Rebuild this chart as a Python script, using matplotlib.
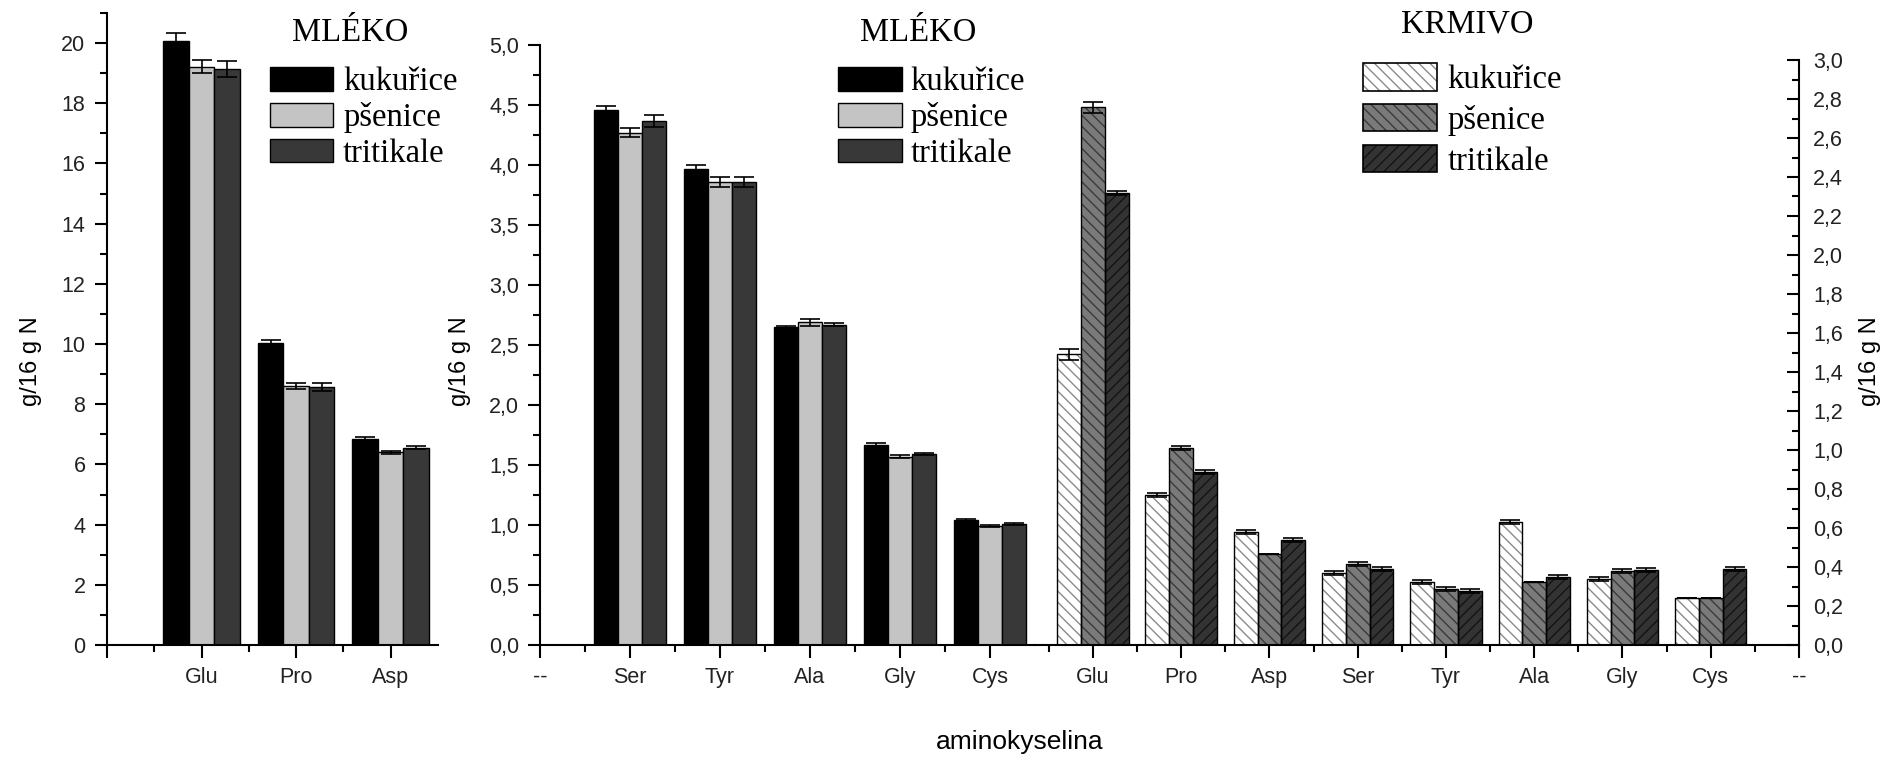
import matplotlib
matplotlib.use("Agg")
import matplotlib.pyplot as plt
import numpy as np
from matplotlib.patches import Patch
from matplotlib.ticker import MultipleLocator, FixedLocator, FuncFormatter

# ---------------- data ----------------
series = ["kukuřice", "pšenice", "tritikale"]

milk1_cats = ["Glu", "Pro", "Asp"]
milk1_kuk = [20.07, 10.02, 6.86]
milk1_pse = [19.21, 8.61, 6.41]
milk1_tri = [19.14, 8.57, 6.55]
milk1_kuk_err = [0.25, 0.11, 0.05]
milk1_pse_err = [0.22, 0.10, 0.05]
milk1_tri_err = [0.26, 0.12, 0.05]

milk2_cats = ["Ser", "Tyr", "Ala", "Gly", "Cys"]
milk2_kuk = [4.46, 3.97, 2.65, 1.67, 1.04]
milk2_pse = [4.27, 3.86, 2.69, 1.57, 0.99]
milk2_tri = [4.37, 3.86, 2.67, 1.59, 1.01]
milk2_kuk_err = [0.035, 0.03, 0.01, 0.01, 0.01]
milk2_pse_err = [0.04, 0.04, 0.03, 0.01, 0.01]
milk2_tri_err = [0.05, 0.04, 0.01, 0.01, 0.01]

feed_cats = ["Glu", "Pro", "Asp", "Ser", "Tyr", "Ala", "Gly", "Cys"]
feed_kuk = [1.49, 0.77, 0.58, 0.37, 0.325, 0.63, 0.337, 0.24]
feed_pse = [2.757, 1.01, 0.467, 0.415, 0.285, 0.325, 0.381, 0.24]
feed_tri = [2.32, 0.889, 0.538, 0.388, 0.277, 0.35, 0.385, 0.388]
feed_kuk_err = [0.03, 0.01, 0.01, 0.01, 0.01, 0.01, 0.01, 0.0]
feed_pse_err = [0.03, 0.01, 0.0, 0.01, 0.01, 0.0, 0.01, 0.0]
feed_tri_err = [0.01, 0.01, 0.01, 0.01, 0.01, 0.01, 0.01, 0.01]

# ---------------- style ----------------
SANS = "Liberation Sans"
SERIF = "Liberation Serif"
milk_colors = ["#000000", "#c4c4c4", "#383838"]
feed_faces = ["#ffffff", "#7a7a7a", "#333333"]
feed_hatch_cols = ["#8a8a8a", "#3a3a3a", "#141414"]
feed_hatches = ["\\\\\\", "\\\\\\", "///"]
plt.rcParams["hatch.linewidth"] = 1.0

W, H = 1889, 761
fig = plt.figure(figsize=(W / 100, H / 100), dpi=100)


def rect(l, r, b, t):
    return [l / W, (H - b) / H, (r - l) / W, (b - t) / H]


ax1 = fig.add_axes(rect(107, 438, 645, 13))
ax2 = fig.add_axes(rect(540, 1035, 645, 45))
ax3 = fig.add_axes(rect(1035, 1799, 645, 60))

BW = 0.27
offs = [-BW, 0.0, BW]
comma = FuncFormatter(lambda v, p: ("%.1f" % v).replace(".", ","))


def milk_bars(ax, vals, errs):
    x = np.arange(1, len(vals[0]) + 1)
    handles = []
    for i in range(3):
        b = ax.bar(x + offs[i], vals[i], BW, color=milk_colors[i],
                   edgecolor="black", linewidth=1.0, zorder=2)
        ax.errorbar(x + offs[i], vals[i], yerr=errs[i], fmt="none",
                    ecolor="black", elinewidth=1.2, capsize=7.5,
                    capthick=1.2, zorder=3)
        handles.append(b)
    return handles


h1 = milk_bars(ax1, [milk1_kuk, milk1_pse, milk1_tri],
               [milk1_kuk_err, milk1_pse_err, milk1_tri_err])
h2 = milk_bars(ax2, [milk2_kuk, milk2_pse, milk2_tri],
               [milk2_kuk_err, milk2_pse_err, milk2_tri_err])

xf = np.arange(1, len(feed_cats) + 1)
feed_vals = [feed_kuk, feed_pse, feed_tri]
feed_errs = [feed_kuk_err, feed_pse_err, feed_tri_err]
feed_handles = []
for i in range(3):
    ax3.bar(xf + offs[i], feed_vals[i], BW, color=feed_faces[i],
            edgecolor=feed_hatch_cols[i], hatch=feed_hatches[i],
            linewidth=0, zorder=2)
    ax3.bar(xf + offs[i], feed_vals[i], BW, fill=False,
            edgecolor="black", linewidth=1.0, zorder=2.5)
    ax3.errorbar(xf + offs[i], feed_vals[i], yerr=feed_errs[i], fmt="none",
                 ecolor="black", elinewidth=1.2, capsize=7.0,
                 capthick=1.2, zorder=3)
    feed_handles.append((
        Patch(facecolor=feed_faces[i], edgecolor=feed_hatch_cols[i],
              hatch=feed_hatches[i], linewidth=0),
        Patch(fill=False, edgecolor="black", linewidth=1.2)))

# ---------------- axes formatting ----------------
tick_col = "#222222"
for ax in (ax1, ax2, ax3):
    for s in ax.spines.values():
        s.set_linewidth(1.5)
    ax.spines["top"].set_visible(False)
    ax.tick_params(axis="both", which="both", width=1.5, colors="black",
                   labelcolor=tick_col, labelsize=15.5)
    ax.tick_params(axis="x", which="major", length=9.5, direction="out", pad=6)
    ax.tick_params(axis="x", which="minor", length=5, direction="out")

# left panel
ax1.spines["right"].set_visible(False)
ax1.set_xlim(0, 3.5)
ax1.set_ylim(0, 21)
ax1.xaxis.set_major_locator(FixedLocator([0, 1, 2, 3]))
ax1.set_xticklabels([""] + milk1_cats)
ax1.xaxis.set_minor_locator(FixedLocator([0.5, 1.5, 2.5]))
ax1.yaxis.set_major_locator(MultipleLocator(2))
ax1.yaxis.set_minor_locator(MultipleLocator(1))
ax1.tick_params(axis="y", which="major", length=8.5, direction="out", pad=7)
ax1.tick_params(axis="y", which="minor", length=5, direction="out")

# middle panel
ax2.spines["right"].set_visible(False)
ax2.set_xlim(0, 5.5)
ax2.set_ylim(0, 5.0)
ax2.xaxis.set_major_locator(FixedLocator([0, 1, 2, 3, 4, 5]))
ax2.set_xticklabels(["--"] + milk2_cats)
ax2.xaxis.set_minor_locator(FixedLocator([0.5, 1.5, 2.5, 3.5, 4.5]))
ax2.yaxis.set_major_locator(MultipleLocator(0.5))
ax2.yaxis.set_minor_locator(MultipleLocator(0.25))
ax2.yaxis.set_major_formatter(comma)
ax2.tick_params(axis="y", which="major", length=9, direction="out", pad=6)
ax2.tick_params(axis="y", which="minor", length=5, direction="out")

# right panel
ax3.spines["left"].set_visible(False)
ax3.set_xlim(0.343, 9)
ax3.set_ylim(0, 3.0)
ax3.xaxis.set_major_locator(FixedLocator(list(range(1, 10))))
ax3.set_xticklabels(feed_cats + ["--"])
ax3.xaxis.set_minor_locator(FixedLocator([0.5 + k for k in range(9)]))
ax3.yaxis.tick_right()
ax3.yaxis.set_major_locator(MultipleLocator(0.2))
ax3.yaxis.set_minor_locator(MultipleLocator(0.1))
ax3.yaxis.set_major_formatter(comma)
ax3.tick_params(axis="y", which="major", length=9, direction="in", pad=10)
ax3.tick_params(axis="y", which="minor", length=5, direction="in")

for ax in (ax1, ax2, ax3):
    for lab in ax.get_xticklabels() + ax.get_yticklabels():
        lab.set_fontfamily(SANS)

# axis titles
fig.text(31 / W, 1 - 361 / H, "g/16 g N", rotation=90, ha="center",
         va="center", fontsize=17, family=SANS)
fig.text(460 / W, 1 - 361 / H, "g/16 g N", rotation=90, ha="center",
         va="center", fontsize=17, family=SANS)
fig.text(1870 / W, 1 - 361 / H, "g/16 g N", rotation=90, ha="center",
         va="center", fontsize=17, family=SANS)
fig.text(1020 / W, 1 - 742 / H, "aminokyselina", ha="center", va="center",
         fontsize=19, family=SANS)

# legends
LFS = 23.5
fig.text(350 / W, 1 - 33 / H, "MLÉKO", ha="center", va="center",
         fontsize=LFS, family=SERIF)
fig.text(918 / W, 1 - 33 / H, "MLÉKO", ha="center", va="center",
         fontsize=LFS, family=SERIF)
fig.text(1467 / W, 1 - 24 / H, "KRMIVO", ha="center", va="center",
         fontsize=LFS, family=SERIF)

leg_kw = dict(loc="upper left", frameon=False, borderpad=0, borderaxespad=0,
              prop={"family": SERIF, "size": LFS},
              bbox_transform=fig.transFigure)
ax1.legend(h1, series, bbox_to_anchor=(270 / W, 1 - 67 / H),
           handlelength=1.93, handleheight=0.74, handletextpad=0.31,
           labelspacing=0.15, **leg_kw)
ax2.legend(h2, series, bbox_to_anchor=(838 / W, 1 - 67 / H),
           handlelength=1.96, handleheight=0.74, handletextpad=0.25,
           labelspacing=0.15, **leg_kw)
ax3.legend(feed_handles, series, bbox_to_anchor=(1363 / W, 1 - 63 / H),
           handlelength=2.27, handleheight=0.92, handletextpad=0.31,
           labelspacing=0.27, **leg_kw)

fig.savefig("out.png", dpi=100)
